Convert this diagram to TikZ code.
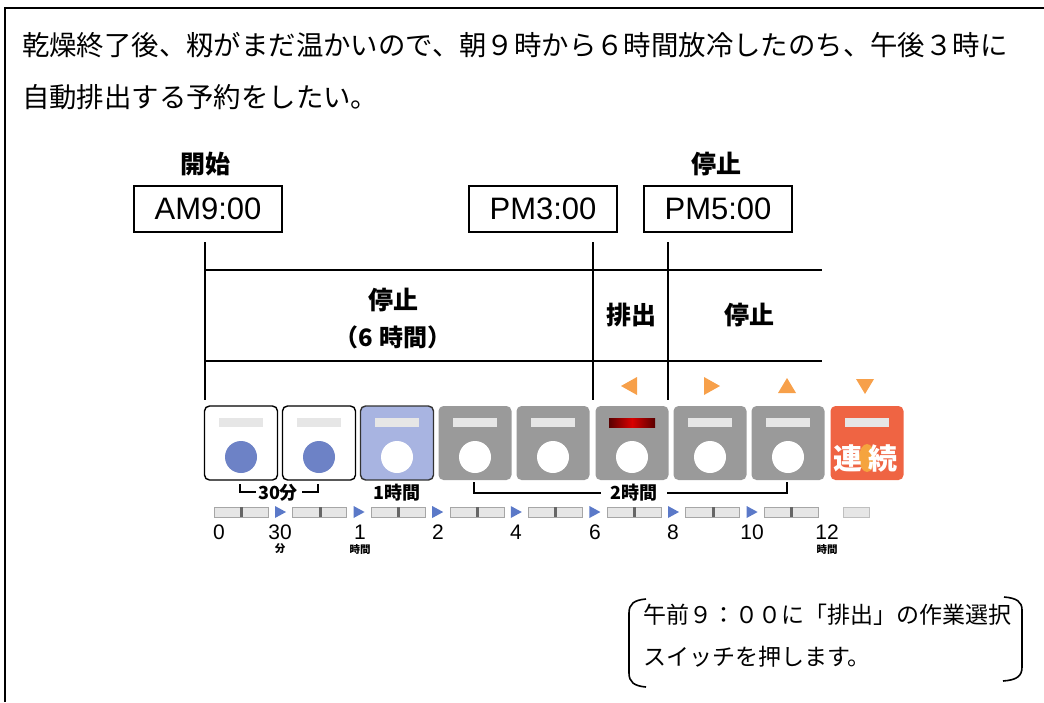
\documentclass[tikz,border=0pt]{standalone}
\usepackage{fontspec}
\setmainfont{Noto Sans CJK JP}
\newfontfamily\latinf{Liberation Sans}
\usetikzlibrary{shapes.geometric}
\definecolor{btnblue}{HTML}{6D82C6}
\definecolor{btnlight}{HTML}{A8B4E1}
\definecolor{btngray}{HTML}{9A9A9A}
\definecolor{btnred}{HTML}{EF6443}
\definecolor{barfill}{HTML}{E6E6E6}
\definecolor{triorange}{HTML}{F7A04A}
\definecolor{triblue}{HTML}{5B79C8}
\definecolor{blob}{HTML}{F5A43E}
\tikzset{
  tbox/.style={draw, line width=1.2pt, minimum width=148pt, minimum height=46pt, inner sep=0pt, font=\latinf\fontsize{31}{32}\selectfont},
  btn/.style={rounded corners=5pt, minimum width=73pt, minimum height=74pt, inner sep=0pt},
  btnw/.style={btn, draw=black, line width=1.4pt, fill=white},
  btnl/.style={btn, draw=black!80, line width=1.4pt, fill=btnlight},
  btng/.style={btn, fill=btngray},
  btnr/.style={btn, fill=btnred},
  bar/.style={fill=barfill, minimum width=44pt, minimum height=9pt, inner sep=0pt},
  knob/.style={circle, minimum size=32pt, inner sep=0pt},
  hd/.style={font=\bfseries\fontsize{25}{28}\selectfont},
  hdp/.style={font=\bfseries\fontsize{24}{26}\selectfont},
  lbl/.style={font=\bfseries\fontsize{18}{20}\selectfont},
  num/.style={font=\latinf\fontsize{21}{22}\selectfont},
  sub/.style={font=\bfseries\fontsize{10.5}{12}\selectfont},
  line/.style={line width=1.3pt},
}
\begin{document}
\begin{tikzpicture}[x=1pt,y=-1pt]
\useasboundingbox (0,0) rectangle (1044,702);
\draw[line width=2pt] (5,702) -- (5,8) -- (1044,8);
% heading
\node[anchor=west, font=\fontsize{27.4}{30}\selectfont, inner sep=0pt] (t1) at (22,45) {乾燥終了後、籾がまだ温かいので、朝９時から６時間放冷したのち、午後３時に};
\node[anchor=west, font=\fontsize{27.4}{30}\selectfont, inner sep=0pt] (t2) at (22,97) {自動排出する予約をしたい。};
% top labels
\node[hd] (start) at (205,164) {開始};
\node[hd] (stop1) at (716,164) {停止};
\node[tbox] (am) at (208,209) {AM9:00};
\node[tbox] (pm3) at (543,209) {PM3:00};
\node[tbox] (pm5) at (718,209) {PM5:00};
% table lines
\coordinate (v1t) at (205,242); \coordinate (v1b) at (205,400);
\coordinate (v2t) at (593,242); \coordinate (v2b) at (593,400);
\coordinate (v3t) at (668,242); \coordinate (v3b) at (668,400);
\coordinate (h1l) at (205,270); \coordinate (h1r) at (822,270);
\coordinate (h2l) at (205,361); \coordinate (h2r) at (822,361);
\draw[line] (v1t) -- (v1b);
\draw[line] (v2t) -- (v2b);
\draw[line] (v3t) -- (v3b);
\draw[line] (h1l) -- (h1r);
\draw[line] (h2l) -- (h2r);
\node[hd] (s6a) at (393,300) {停止};
\node[hdp] (s6b) at (393,337) {（6 時間）};
\node[hd] (out) at (631,315) {排出};
\node[hd] (stop2) at (749,315) {停止};
% orange triangles
\fill[triorange] (621,386) -- (637,377) -- (637,395) -- cycle;
\fill[triorange] (720,386) -- (704,377) -- (704,395) -- cycle;
\fill[triorange] (787,378) -- (796,393) -- (778,393) -- cycle;
\fill[triorange] (865,394) -- (874,379) -- (856,379) -- cycle;
% buttons
\node[btnw] (b1) at (241,443) {};
\node[btnw] (b2) at (319,443) {};
\node[btnl] (b3) at (397,443) {};
\node[btng] (b4) at (475,443) {};
\node[btng] (b5) at (553,443) {};
\node[btng] (b6) at (632,443) {};
\node[btng] (b7) at (710,443) {};
\node[btng] (b8) at (788,443) {};
\node[btnr] (b9) at (867,443) {};
\foreach \x in {241,319,397,475,553,710,788,867} {\node[bar] at (\x,422) {};}
\shade[left color=red!35!black, right color=red!35!black, middle color=red!85!black] (609,418) rectangle (655,427);
\foreach \x in {241,319} {\node[knob, fill=btnblue] at (\x,457) {};}
\foreach \x in {397,475,553,632,710,788} {\node[knob, fill=white] at (\x,457) {};}
\fill[blob] (867,458) ellipse (8pt and 14pt);
\node[font=\bfseries\fontsize{29}{30}\selectfont, text=white, inner sep=0pt] (ren) at (848,458) {連};
\node[font=\bfseries\fontsize{29}{30}\selectfont, text=white, inner sep=0pt] (zoku) at (883,458) {続};
% brackets under buttons
\node[lbl] (m30) at (278,493) {30分};
\node[lbl] (h1) at (397,493) {1時間};
\node[lbl] (h2) at (634,493) {2時間};
\draw[line width=1.1pt] (240,484) -- (240,492) -- (256,492);
\draw[line width=1.1pt] (302,492) -- (318,492) -- (318,484);
\draw[line width=1.1pt] (474,482) -- (474,493) -- (601,493);
\draw[line width=1.1pt] (667,493) -- (787,493) -- (787,482);
% scale
\foreach \k in {0,...,7} {
  \pgfmathsetmacro{\xs}{214+78.6*\k}
  \draw[fill=barfill, draw=black!35, line width=0.6pt] (\xs,507) rectangle ++(54,10);
  \fill[black!60] (\xs+26,507) rectangle ++(3,10);
}
\foreach \k in {0,...,6} {
  \pgfmathsetmacro{\xt}{280+78.6*\k}
  \fill[triblue] (\xt-5,506) -- (\xt+6,512) -- (\xt-5,518) -- cycle;
}
\draw[fill=barfill, draw=black!25, line width=0.6pt] (843,507) rectangle (869,517);
\node[num] (n0) at (219,532) {0};
\node[num] (n30) at (280,532) {30};
\node[num] (n1) at (360,532) {1};
\node[num] (n2) at (438,532) {2};
\node[num] (n4) at (516,532) {4};
\node[num] (n6) at (595,532) {6};
\node[num] (n8) at (673,532) {8};
\node[num] (n10) at (752,532) {10};
\node[num] (n12) at (827,532) {12};
\node[sub] (u30) at (280,549) {分};
\node[sub] (u1) at (360,549) {時間};
\node[sub] (u12) at (827,549) {時間};
% note
\draw[line width=1.6pt] (646,599) .. controls (634,600) and (629,604) .. (629,613) -- (629,673) .. controls (629,682) and (634,686) .. (646,687);
\draw[line width=1.6pt] (1004,597) .. controls (1017,598) and (1022,602) .. (1022,610) -- (1022,667) .. controls (1022,676) and (1017,680) .. (1003,681);
\node[anchor=west, font=\fontsize{23}{26}\selectfont, inner sep=0pt] (note1) at (643,615) {午前９：００に「排出」の作業選択};
\node[anchor=west, font=\fontsize{23}{26}\selectfont, inner sep=0pt] (note2) at (643,657) {スイッチを押します。};
\end{tikzpicture}
\end{document}
